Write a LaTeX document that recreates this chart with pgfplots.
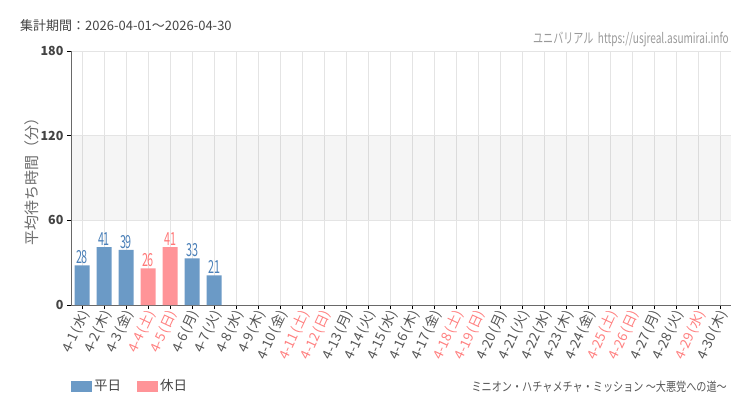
\documentclass[border=0pt]{standalone}
\usepackage{fontspec}
\setmainfont{Noto Sans CJK JP}
\usepackage{graphicx}
\usepackage{pgfplots}
\pgfplotsset{compat=1.18}
\definecolor{wd}{HTML}{6B9AC6}
\definecolor{hd}{HTML}{FF9498}
\definecolor{wdl}{HTML}{4B80B8}
\definecolor{hdl}{HTML}{FF7878}
\definecolor{txt}{HTML}{444444}
\definecolor{tl}{HTML}{555555}
\definecolor{hol}{HTML}{FF8080}
\definecolor{gridc}{HTML}{E4E4E4}
\newcommand{\lb}[2]{#1\,(#2)}
\newcommand{\hl}[2]{\textcolor{hol}{\lb{#1}{#2}}}
\begin{document}
\begin{tikzpicture}
\useasboundingbox (0pt,0pt) rectangle (750pt,410pt);
\node[anchor=west, font=\fontsize{13}{13}\selectfont, text=txt, inner sep=0] at (20pt,384pt) {集計期間：2026-04-01～2026-04-30};
\node[anchor=east, font=\fontsize{14}{14}\selectfont, text=gray!80, inner sep=0] at (729pt,371pt) {\scalebox{0.72}[1]{ユニバリアル\ \ https://usjreal.asumirai.info}};
\node[anchor=east, font=\fontsize{12.5}{12.5}\selectfont, text=txt!90, inner sep=0] at (727pt,23pt) {\scalebox{0.81}[1]{ミニオン・ハチャメチャ・ミッション ～大悪党への道～}};
\begin{axis}[
  at={(71pt,105pt)}, anchor=south west, scale only axis,
  width=660pt, height=254pt,
  /pgf/number format/assume math mode=true,
  xmin=-0.5, xmax=29.5, ymin=0, ymax=180,
  ytick={0,60,120,180},
  xtick={0,...,29},
  xticklabels={\lb{4-1}{水},\lb{4-2}{木},\lb{4-3}{金},\hl{4-4}{土},\hl{4-5}{日},\lb{4-6}{月},\lb{4-7}{火},\lb{4-8}{水},\lb{4-9}{木},\lb{4-10}{金},\hl{4-11}{土},\hl{4-12}{日},\lb{4-13}{月},\lb{4-14}{火},\lb{4-15}{水},\lb{4-16}{木},\lb{4-17}{金},\hl{4-18}{土},\hl{4-19}{日},\lb{4-20}{月},\lb{4-21}{火},\lb{4-22}{水},\lb{4-23}{木},\lb{4-24}{金},\hl{4-25}{土},\hl{4-26}{日},\lb{4-27}{月},\lb{4-28}{火},\hl{4-29}{水},\lb{4-30}{木}},
  x tick label style={rotate=65, anchor=east, font=\fontsize{13.5}{13.5}\selectfont, text=tl, inner sep=1pt, yshift=-4pt},
  y tick label style={font=\fontsize{12.5}{12.5}\selectfont\bfseries, text=txt},
  axis lines*=left, axis line style={-, color=txt!80},
  tick align=outside, major tick length=4pt, tick style={black, line width=0.8pt},
  grid=major, major grid style={gridc, line width=0.6pt},
  ylabel style={at={(axis description cs:0,0.5)}, anchor=center, xshift=0pt, yshift=39pt, font=\fontsize{15}{15}\selectfont, text=gray!85!black},
  ylabel={平均待ち時間（分）},
  legend style={at={(0,-0.319)}, anchor=west, draw=none, fill=none, legend columns=2, inner sep=0pt, font=\fontsize{13.5}{13.5}\selectfont, text=txt, /tikz/every even column/.append style={column sep=14pt}},
  legend image code/.code={\fill[#1] (0pt,-5.5pt) rectangle (21pt,5.5pt);},
]
\addplot[fill=black, fill opacity=0.04, draw=none, forget plot] coordinates {(-0.5,60) (29.5,60) (29.5,120) (-0.5,120)} -- cycle;
\addplot[ybar, bar width=15pt, bar shift=0pt, fill=wd, draw=none, nodes near coords={\scalebox{0.6}[1]{\pgfmathprintnumber{\pgfplotspointmeta}}}, every node near coord/.append style={text=wdl, font=\fontsize{18}{18}\selectfont, inner sep=1.5pt}] coordinates {(0,28) (1,41) (2,39) (5,33) (6,21)};
\addlegendentry{平日}
\addplot[ybar, bar width=15pt, bar shift=0pt, fill=hd, draw=none, nodes near coords={\scalebox{0.6}[1]{\pgfmathprintnumber{\pgfplotspointmeta}}}, every node near coord/.append style={text=hdl, font=\fontsize{18}{18}\selectfont, inner sep=1.5pt}] coordinates {(3,26) (4,41)};
\addlegendentry{休日}
\end{axis}
\end{tikzpicture}
\end{document}
